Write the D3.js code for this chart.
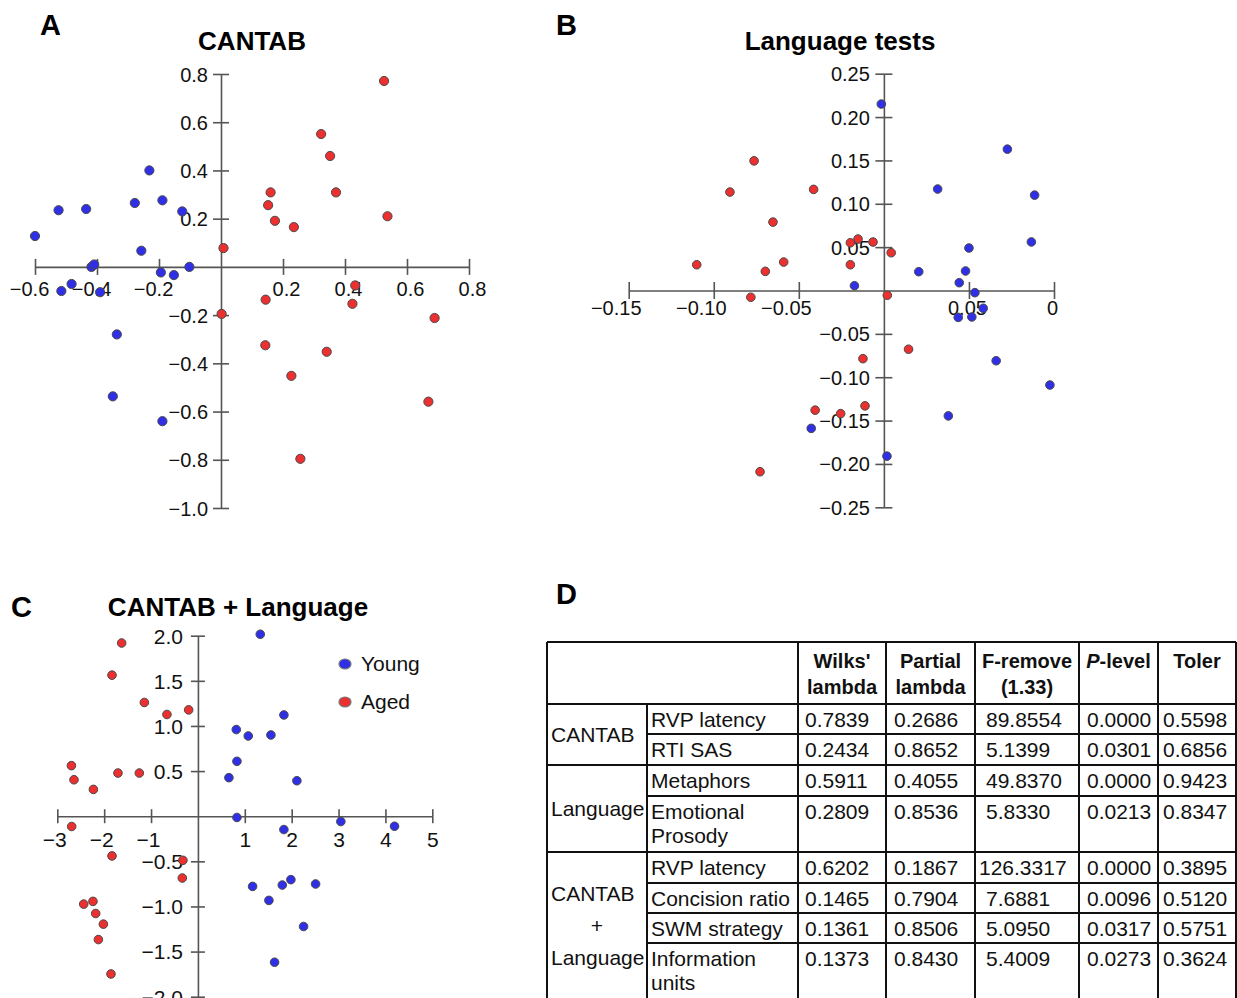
<!DOCTYPE html>
<html>
<head>
<meta charset="utf-8">
<title>CANTAB / Language discriminant plots</title>
<script src="https://d3js.org/d3.v7.min.js"></script>
<style>
  body{margin:0;background:#fff}
  svg{display:block;font-family:Arial,"Liberation Sans",sans-serif}
</style>
</head>
<body>
<svg width="1237" height="998"></svg>
<script>
// ---- data ----
// A: CANTAB
var aYoungX = [-0.60,-0.524,-0.435,-0.278,-0.231,-0.189,-0.125,-0.257,-0.418,-0.409,-0.194,-0.152,-0.102,-0.482,-0.515,-0.39,-0.336,-0.349,-0.189];
var aYoungY = [0.128,0.235,0.24,0.265,0.40,0.276,0.23,0.067,0,0.01,-0.023,-0.034,0,-0.071,-0.10,-0.105,-0.28,-0.537,-0.64];
var aAgedX = [0.526,0.323,0.352,0.160,0.371,0.152,0.174,0.235,0.537,0.008,0.433,0.002,0.144,0.424,0.689,0.143,0.341,0.227,0.669,0.256];
var aAgedY = [0.771,0.551,0.46,0.309,0.309,0.256,0.191,0.165,0.21,0.078,-0.077,-0.195,-0.136,-0.153,-0.212,-0.325,-0.352,-0.452,-0.559,-0.796];
var aXTicks = [-0.6,-0.4,-0.2,0.2,0.4,0.6,0.8];
var aYTicks = [0.8,0.6,0.4,0.2,-0.2,-0.4,-0.6,-0.8,-1.0];

// B: Language tests
var bYoungX = [-0.0015,0.0726,0.0316,0.0886,0.0867,0.050,0.0205,0.048,0.0443,0.0535,-0.0173,0.0584,0.0437,0.0517,0.066,0.0976,0.0379,-0.0427,0.0018];
var bYoungY = [0.215,0.163,0.117,0.110,0.056,0.049,0.0217,0.0225,0.009,-0.0025,0.0055,-0.0205,-0.031,-0.0305,-0.081,-0.109,-0.1446,-0.159,-0.191];
var bAgedX = [-0.0763,-0.0905,-0.0413,-0.0652,-0.0152,-0.0197,-0.0064,0.0043,-0.110,-0.0589,-0.0697,-0.0197,-0.0782,0.002,0.0145,-0.0123,-0.0111,-0.0404,-0.0254,-0.0728];
var bAgedY = [0.1495,0.1135,0.1166,0.0789,0.0593,0.055,0.0559,0.0436,0.0297,0.0328,0.0221,0.0297,-0.0078,-0.0055,-0.0677,-0.0786,-0.133,-0.138,-0.142,-0.209];
var bXTicks = [-0.15,-0.10,-0.05,0.05,0.10];
var bXLabels = ["\u22120.15","\u22120.10","\u22120.05","0.05","0"];
var bYTicks = [0.25,0.20,0.15,0.10,0.05,-0.05,-0.10,-0.15,-0.20,-0.25];

// C: CANTAB + Language
var cYoungX = [1.33,1.834,0.818,1.074,1.557,0.832,0.661,2.111,0.832,1.834,3.049,4.194,1.166,1.8,1.983,2.51,1.514,2.254,1.635];
var cYoungY = [2.016,1.122,0.96,0.889,0.9,0.608,0.427,0.393,-0.014,-0.148,-0.059,-0.111,-0.778,-0.763,-0.703,-0.751,-0.933,-1.222,-1.618];
var cAgedX = [-1.627,-1.833,-1.143,-0.661,-0.198,-2.699,-2.644,-2.23,-1.706,-1.25,-2.693,-1.833,-0.32,-0.333,-2.437,-2.239,-2.181,-2.017,-2.124,-1.855];
var cAgedY = [1.919,1.563,1.26,1.127,1.178,0.56,0.404,0.297,0.478,0.478,-0.114,-0.44,-0.489,-0.685,-0.974,-0.944,-1.078,-1.196,-1.367,-1.748];
var cXTicks = [-3,-2,-1,1,2,3,4,5];
var cYTicks = [2,1.5,1,0.5,-0.5,-1,-1.5,-2];
var groupNames = ["Young","Aged"];

// D: table
var tableHead = ["Wilks'|lambda","Partial|lambda","F-remove|(1.33)","P-level","Toler"];
var groupLabels = [["CANTAB"],["Language"],["CANTAB","+","Language"]];
var groupRows = [2,2,4];
var rowNames = [["RVP latency"],["RTI SAS"],["Metaphors"],["Emotional","Prosody"],["RVP latency"],["Concision ratio"],["SWM strategy"],["Information","units"]];
var wilks = [0.7839,0.2434,0.5911,0.2809,0.6202,0.1465,0.1361,0.1373];
var partialL = [0.2686,0.8652,0.4055,0.8536,0.1867,0.7904,0.8506,0.8430];
var fRemove = [89.8554,5.1399,49.8370,5.8330,126.3317,7.6881,5.0950,5.4009];
var pLevel = [0.0000,0.0301,0.0000,0.0213,0.0000,0.0096,0.0317,0.0273];
var toler = [0.5598,0.6856,0.9423,0.8347,0.3895,0.5120,0.5751,0.3624];

var blue = "#2f2fe8", red = "#ec2f2f", axisCol = "#555";
var svg = d3.select("svg");

function zip(xs, ys){ return xs.map(function(v,i){ return [v, ys[i]]; }); }

// cross-shaped axes through the origin, ticks on both sides
function drawAxes(g, x, y, o){
  var gx = g.append("g")
    .attr("transform","translate(0,"+y(0)+")")
    .call(d3.axisBottom(x).tickValues(o.xTicks).tickFormat(o.xFmt).tickSize(o.t).tickSizeOuter(0));
  gx.selectAll(".tick line").attr("y1",-o.t).attr("y2",o.t);
  gx.selectAll(".tick text")
    .attr("y",o.xLabY).attr("dx",function(d){ return d<0 ? o.dxNeg : o.dxPos; });

  var gy = g.append("g")
    .attr("transform","translate("+x(0)+",0)")
    .call(d3.axisLeft(y).tickValues(o.yTicks).tickFormat(o.yFmt).tickSize(o.t).tickSizeOuter(0));
  gy.selectAll(".tick line").attr("x1",o.t).attr("x2",-o.t);
  gy.selectAll(".tick text").attr("x",-o.yLabX).attr("dy","0.35em");

  [gx,gy].forEach(function(a){
    a.attr("font-family",null).attr("font-size",o.fs);
    a.selectAll("line,path").attr("stroke",axisCol).attr("stroke-width",1.6);
    a.selectAll("text").attr("fill","#111");
  });
}

function drawDots(g, x, y, pts, col, r){
  g.append("g").selectAll("circle")
    .data(pts)
    .enter()
    .append("circle")
    .attr("cx",function(d){ return x(d[0]); })
    .attr("cy",function(d){ return y(d[1]); })
    .attr("r",r)
    .attr("fill",col)
    .attr("stroke","#4a4a4a")
    .attr("stroke-width",1);
}

function panelLetter(txt, px, py){
  svg.append("text").attr("x",px).attr("y",py)
    .attr("font-size",29).attr("font-weight","bold").text(txt);
}
function panelTitle(txt, cx, py){
  svg.append("text").attr("x",cx).attr("y",py).attr("text-anchor","middle")
    .attr("font-size",26).attr("font-weight","bold").text(txt);
}

// ---- A ----
var xA = d3.scaleLinear().domain([-0.6,0.8]).range([35,469]);
var yA = d3.scaleLinear().domain([-1.0,0.8]).range([508,74]);
var gA = svg.append("g");
drawAxes(gA, xA, yA, {xTicks:aXTicks, yTicks:aYTicks, xFmt:d3.format(".1f"), yFmt:d3.format(".1f"),
  t:8, fs:20, xLabY:15, dxNeg:-6, dxPos:3, yLabX:13});
drawDots(gA, xA, yA, zip(aYoungX,aYoungY), blue, 4.6);
drawDots(gA, xA, yA, zip(aAgedX,aAgedY), red, 4.6);
panelLetter("A",40,35);
panelTitle("CANTAB",252,50);

// ---- B ----
var xB = d3.scaleLinear().domain([-0.15,0.10]).range([628.7,1054]);
var yB = d3.scaleLinear().domain([-0.25,0.25]).range([507.3,73.7]);
var gB = svg.append("g");
drawAxes(gB, xB, yB, {xTicks:bXTicks, yTicks:bYTicks,
  xFmt:function(d){ return bXLabels[bXTicks.indexOf(d)]; }, yFmt:d3.format(".2f"),
  t:8.5, fs:20, xLabY:10, dxNeg:-13, dxPos:-2, yLabX:14});
drawDots(gB, xB, yB, zip(bYoungX,bYoungY), blue, 4.3);
drawDots(gB, xB, yB, zip(bAgedX,bAgedY), red, 4.3);
panelLetter("B",556,35);
panelTitle("Language tests",840,50);

// ---- C ----
var xC = d3.scaleLinear().domain([-3,5]).range([57.3,432.3]);
var yC = d3.scaleLinear().domain([-2,2]).range([996.7,635.7]);
var gC = svg.append("g");
drawAxes(gC, xC, yC, {xTicks:cXTicks, yTicks:cYTicks, xFmt:d3.format("d"), yFmt:d3.format(".1f"),
  t:7, fs:21, xLabY:16, dxNeg:-3, dxPos:0, yLabX:15});
drawDots(gC, xC, yC, zip(cYoungX,cYoungY), blue, 4.3);
drawDots(gC, xC, yC, zip(cAgedX,cAgedY), red, 4.3);
panelLetter("C",11,617);
panelTitle("CANTAB + Language",238,616);

// legend
var leg = svg.append("g").selectAll("g")
  .data(groupNames)
  .enter()
  .append("g")
  .attr("transform",function(d,i){ return "translate(345,"+(664+i*38)+")"; });
leg.append("ellipse").attr("rx",6).attr("ry",5)
  .attr("fill",function(d,i){ return i==0 ? blue : red; })
  .attr("stroke","#777").attr("stroke-width",1.2);
leg.append("text").attr("x",16).attr("dy","0.35em")
  .attr("font-size",21).attr("fill","#111").text(function(d){ return d; });

// ---- D: table ----
panelLetter("D",556,604);
var colX = [547,647,798,886,975,1079,1158,1236];
var headTop = 642, headBot = 704;
var rowTops = [704,734,765,796,852,883,913,943,999];
var tbl = svg.append("g").attr("font-size",21).attr("fill","#111");
var ln = function(x1,y1,x2,y2){
  tbl.append("line").attr("x1",x1).attr("y1",y1).attr("x2",x2).attr("y2",y2)
    .attr("stroke","#111").attr("stroke-width",2);
};
// outer + header borders
ln(colX[0],headTop,colX[7],headTop);
ln(colX[0],headBot,colX[7],headBot);
ln(colX[0],headTop,colX[0],1000);
ln(colX[7],headTop,colX[7],1000);
ln(colX[1],headBot,colX[1],1000);
for(var c=2;c<7;c++) ln(colX[c],headTop,colX[c],1000);
// row lines: full at group edges, partial inside groups
var start = 0;
groupRows.forEach(function(n){
  for(var r=start+1;r<start+n;r++) ln(colX[1],rowTops[r],colX[7],rowTops[r]);
  start += n;
  ln(colX[0],rowTops[start],colX[7],rowTops[start]);
});

// header text
tableHead.forEach(function(h,i){
  var cx = (colX[i+2]+colX[i+3])/2;
  var t = tbl.append("text").attr("x",cx).attr("y",668).attr("text-anchor","middle")
    .attr("font-weight","bold").attr("font-size",20);
  if(h.indexOf("P-")==0){
    t.append("tspan").attr("font-style","italic").text("P");
    t.append("tspan").text(h.slice(1));
  } else {
    var parts = h.split("|");
    t.text(parts[0]);
    if(parts[1]) tbl.append("text").attr("x",cx).attr("y",694).attr("text-anchor","middle")
      .attr("font-weight","bold").attr("font-size",20).text(parts[1]);
  }
});

// group labels
start = 0;
groupLabels.forEach(function(lines,gi){
  var top = rowTops[start], bot = rowTops[start+groupRows[gi]];
  var mid = (top+bot)/2;
  lines.forEach(function(s,k){
    var yy = mid + (k-(lines.length-1)/2)*32 + 7.5;
    tbl.append("text")
      .attr("x", s=="+" ? (colX[0]+colX[1])/2 : colX[0]+4)
      .attr("text-anchor", s=="+" ? "middle" : "start")
      .attr("y",yy).text(s);
  });
  start += groupRows[gi];
});

// row names and values
var f4 = d3.format(".4f");
var cols = [wilks, partialL, fRemove, pLevel, toler];
var pads = [7, 8, 11, 8, 5];
rowNames.forEach(function(lines,r){
  var yy = rowTops[r]+23;
  lines.forEach(function(s,k){
    tbl.append("text").attr("x",colX[1]+4).attr("y",yy+k*24).text(s);
  });
  cols.forEach(function(arr,ci){
    var v = arr[r];
    var pad = (ci==2 && v>=100) ? 4 : pads[ci];
    tbl.append("text").attr("x",colX[ci+2]+pad).attr("y",yy).text(f4(v));
  });
});
</script>
</body>
</html>
